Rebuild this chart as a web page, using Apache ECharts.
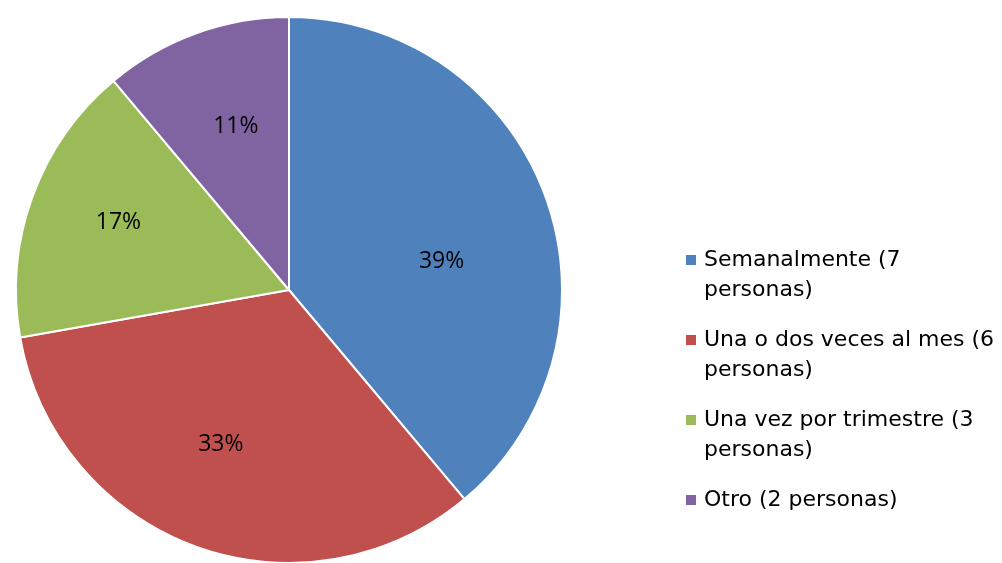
<!DOCTYPE html>
<html>
<head>
<meta charset="utf-8">
<script src="https://cdn.jsdelivr.net/npm/echarts@6/dist/echarts.min.js"></script>
<style>
    html, body { margin: 0; padding: 0; background: #fff; }
    #chart { width: 1002px; height: 563px; }
</style>
</head>
<body>
<div id="chart"></div>
<script>
var categories = ['Semanalmente (7 personas)', 'Una o dos veces al mes (6 personas)', 'Una vez por trimestre (3 personas)', 'Otro (2 personas)'];
var values = [7, 6, 3, 2];
var colors = ['#4F81BD', '#C0504D', '#9BBB59', '#8064A2'];
// small nudges of the percentage labels (Excel "best fit" placement)
var labelNudge = [[-10, 31], [-9, -8], [-8, -8], [6, -1]];

// legend icon boxes: square next to the first line of the text
var iconTwoLines = 'path://M0,0h10v10h-10z M0,40h10';
var iconOneLine = 'path://M0,0h10 M0,10h10v10h-10z M0,30h10';

function buildData() {
    var list = [];
    for (var i = 0; i < categories.length; i++) {
        list.push({ name: categories[i], value: values[i], itemStyle: { color: colors[i] } });
    }
    return list;
}

function buildLabelData() {
    var list = [];
    for (var i = 0; i < categories.length; i++) {
        list.push({ name: categories[i], value: values[i], label: { offset: labelNudge[i] } });
    }
    return list;
}

function buildLegend() {
    var list = [];
    for (var i = 0; i < categories.length; i++) {
        var twoLines = categories[i].indexOf('Otro') != 0;
        list.push({ name: categories[i], icon: twoLines ? iconTwoLines : iconOneLine });
    }
    return list;
}

var option = {
    animation: false,
    legend: {
        orient: 'vertical',
        left: 686,
        top: 245,
        padding: 0,
        itemWidth: 10,
        itemHeight: 40,
        itemGap: 20,
        selectedMode: false,
        itemStyle: { borderWidth: 0 },
        data: buildLegend(),
        formatter: function (name) {
            if (name.indexOf('Otro') == 0) return name;
            return name.replace(' personas)', '\npersonas)');
        },
        textStyle: {
            fontFamily: 'DejaVu Sans',
            fontSize: 22,
            lineHeight: 30,
            padding: [0, 0, 0, 3],
            color: '#000'
        }
    },
    series: [
        {
            name: 'frecuencia',
            type: 'pie',
            center: [289, 290],
            radius: [0, 273],
            startAngle: 90,
            clockwise: true,
            silent: true,
            label: { show: false },
            labelLine: { show: false },
            itemStyle: { borderColor: '#fff', borderWidth: 2 },
            data: buildData()
        },
        {
            // transparent copy, only used to put the percentages further out
            name: 'etiquetas',
            type: 'pie',
            center: [289, 290],
            radius: [0, 340],
            startAngle: 90,
            clockwise: true,
            silent: true,
            legendHoverLink: false,
            itemStyle: { color: 'rgba(0,0,0,0)', borderWidth: 0 },
            label: {
                show: true,
                position: 'inside',
                fontFamily: 'Open Sans',
                fontSize: 23,
                color: '#000',
                formatter: function (p) {
                    return Math.round(p.percent) + '%';
                }
            },
            labelLine: { show: false },
            data: buildLabelData()
        }
    ]
};

var myChart = echarts.init(document.getElementById('chart'));
myChart.setOption(option);
</script>
</body>
</html>
